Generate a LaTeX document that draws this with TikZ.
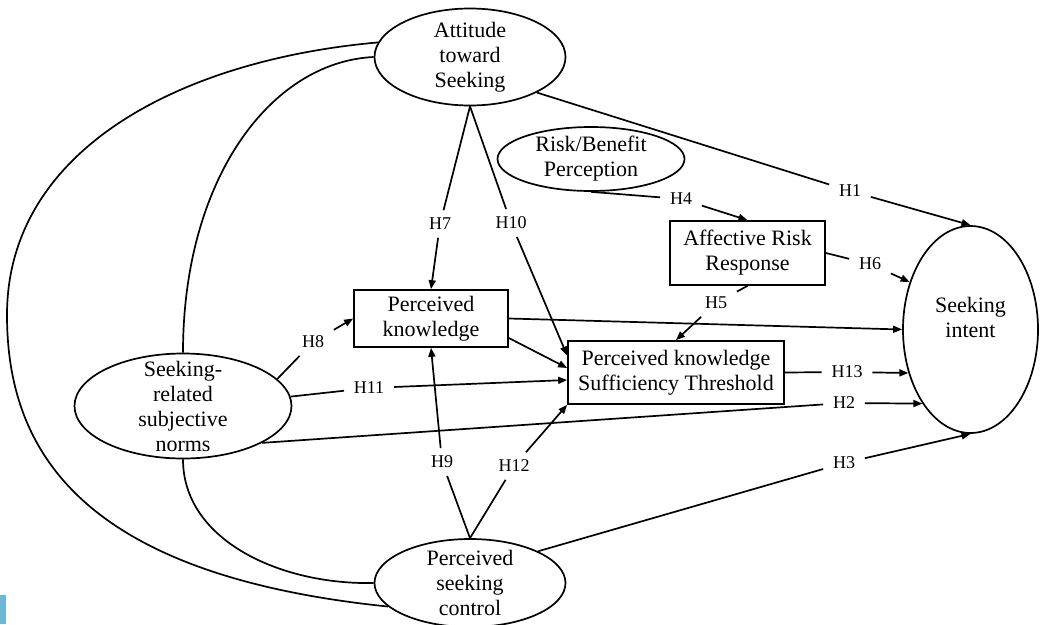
\documentclass[tikz,border=0pt]{standalone}
\usepackage{fontspec}
\setmainfont{Liberation Serif}
\usetikzlibrary{shapes.geometric,arrows.meta,calc}
\definecolor{barblue}{HTML}{6CB8D8}
\begin{document}
\begin{tikzpicture}[x=1pt,y=-1pt,
  every path/.style={line width=1.7pt},
  tip/.style={-{Triangle[length=9pt,width=7pt]}},
  ell/.style={draw,ellipse,inner sep=0pt,line width=1.7pt},
  box/.style={draw,rectangle,inner sep=0pt,line width=1.7pt,align=center,
    font=\fontsize{22}{25}\selectfont},
  txt/.style={align=center,inner sep=0pt,font=\fontsize{22}{25}\selectfont},
  hlab/.style={inner xsep=9pt,inner ysep=7pt,font=\fontsize{18}{20}\selectfont}]
\useasboundingbox (0,0) rectangle (1046,624);
\fill[barblue] (0,595) rectangle (6,624);

% ellipses
\node[ell,minimum width=191pt,minimum height=97pt] (att) at (470,57) {};
\node[txt] (att-t) at (att) {Attitude\\toward\\Seeking};
\node[ell,minimum width=187pt,minimum height=64pt] (rb) at (591,159) {};
\node[txt] (rb-t) at (rb) {Risk/Benefit\\Perception};
\node[ell,minimum width=217pt,minimum height=105pt] (sr) at (183,406) {};
\node[txt] (sr-t) at (sr) {Seeking-\\related\\subjective\\norms};
\node[ell,minimum width=191pt,minimum height=88pt] (psc) at (470,583) {};
\node[txt] (psc-t) at (psc) {Perceived\\seeking\\control};
\node[ell,minimum width=135pt,minimum height=207pt] (si) at (970.5,329.5) {};
\node[txt] (si-t) at ([yshift=12pt]si.center) {Seeking\\intent};

% boxes
\node[box,minimum width=154pt,minimum height=57pt] (pk) at (431,318.5) {Perceived\\knowledge};
\node[box,minimum width=155pt,minimum height=64pt] (aff) at (747.5,253) {Affective Risk\\Response};
\node[box,minimum width=216pt,minimum height=63pt] (pkst) at (676,372.5) {Perceived knowledge\\Sufficiency Threshold};

% labels
\node[hlab] (h1) at (850,191) {H1};
\node[hlab] (h2) at (844,403) {H2};
\node[hlab] (h3) at (844,463) {H3};
\node[hlab] (h4) at (681,199) {H4};
\node[hlab] (h5) at (716,303) {H5};
\node[hlab] (h6) at (870,264) {H6};
\node[hlab] (h7) at (440,224) {H7};
\node[hlab] (h8) at (313,342) {H8};
\node[hlab] (h9) at (442,462) {H9};
\node[hlab] (h10) at (511,223) {H10};
\node[hlab] (h11) at (369,388) {H11};
\node[hlab] (h12) at (514,466) {H12};
\node[hlab] (h13) at (847,372) {H13};

% correlation curves
\draw (att.171) .. controls (180,60) and (7,150) .. (7,315)
      .. controls (7,450) and (80,575) .. (psc.196);
\draw (att.west) .. controls (270,62) and (183,180) .. (sr.north);
\draw (sr.south) .. controls (183,540) and (280,585) .. (psc.west);

% paths
\draw (att.-28) -- (h1);  \draw[tip] (h1) -- (si.north);
\draw (sr.335) -- (h2);   \draw[tip] (h2) -- (si.237);
\draw (psc.25) -- (h3);   \draw[tip] (h3) -- (si.south);
\draw (rb.south) -- (h4); \draw[tip] (h4) -- (aff.north);
\draw (aff.south) -- (h5); \draw[tip] (h5) -- (pkst.north);
\draw (aff.east) -- (h6); \draw[tip] (h6) -- (si.142.5);
\draw (att.south) -- (h7); \draw[tip] (h7) -- (pk.north);
\draw (sr.16) -- (h8);    \draw[tip] (h8) -- (pk.west);
\draw (psc.north) -- (h9); \draw[tip] (h9) -- (pk.south);
\draw (att.south) -- (h10); \draw[tip] (h10) -- ([yshift=17pt]pkst.west);
\draw (sr.5) -- (h11);    \draw[tip] (h11) -- ([yshift=-7.5pt]pkst.west);
\draw (psc.north) -- (h12); \draw[tip] (h12) -- (pkst.south west);
\draw (pkst.east) -- (h13); \draw[tip] (h13) -- (si.215);
\draw[tip] (pk.east) -- (si.west);
\draw[tip] ([yshift=-19.5pt]pk.east) -- ([yshift=4.5pt]pkst.west);
\end{tikzpicture}
\end{document}
